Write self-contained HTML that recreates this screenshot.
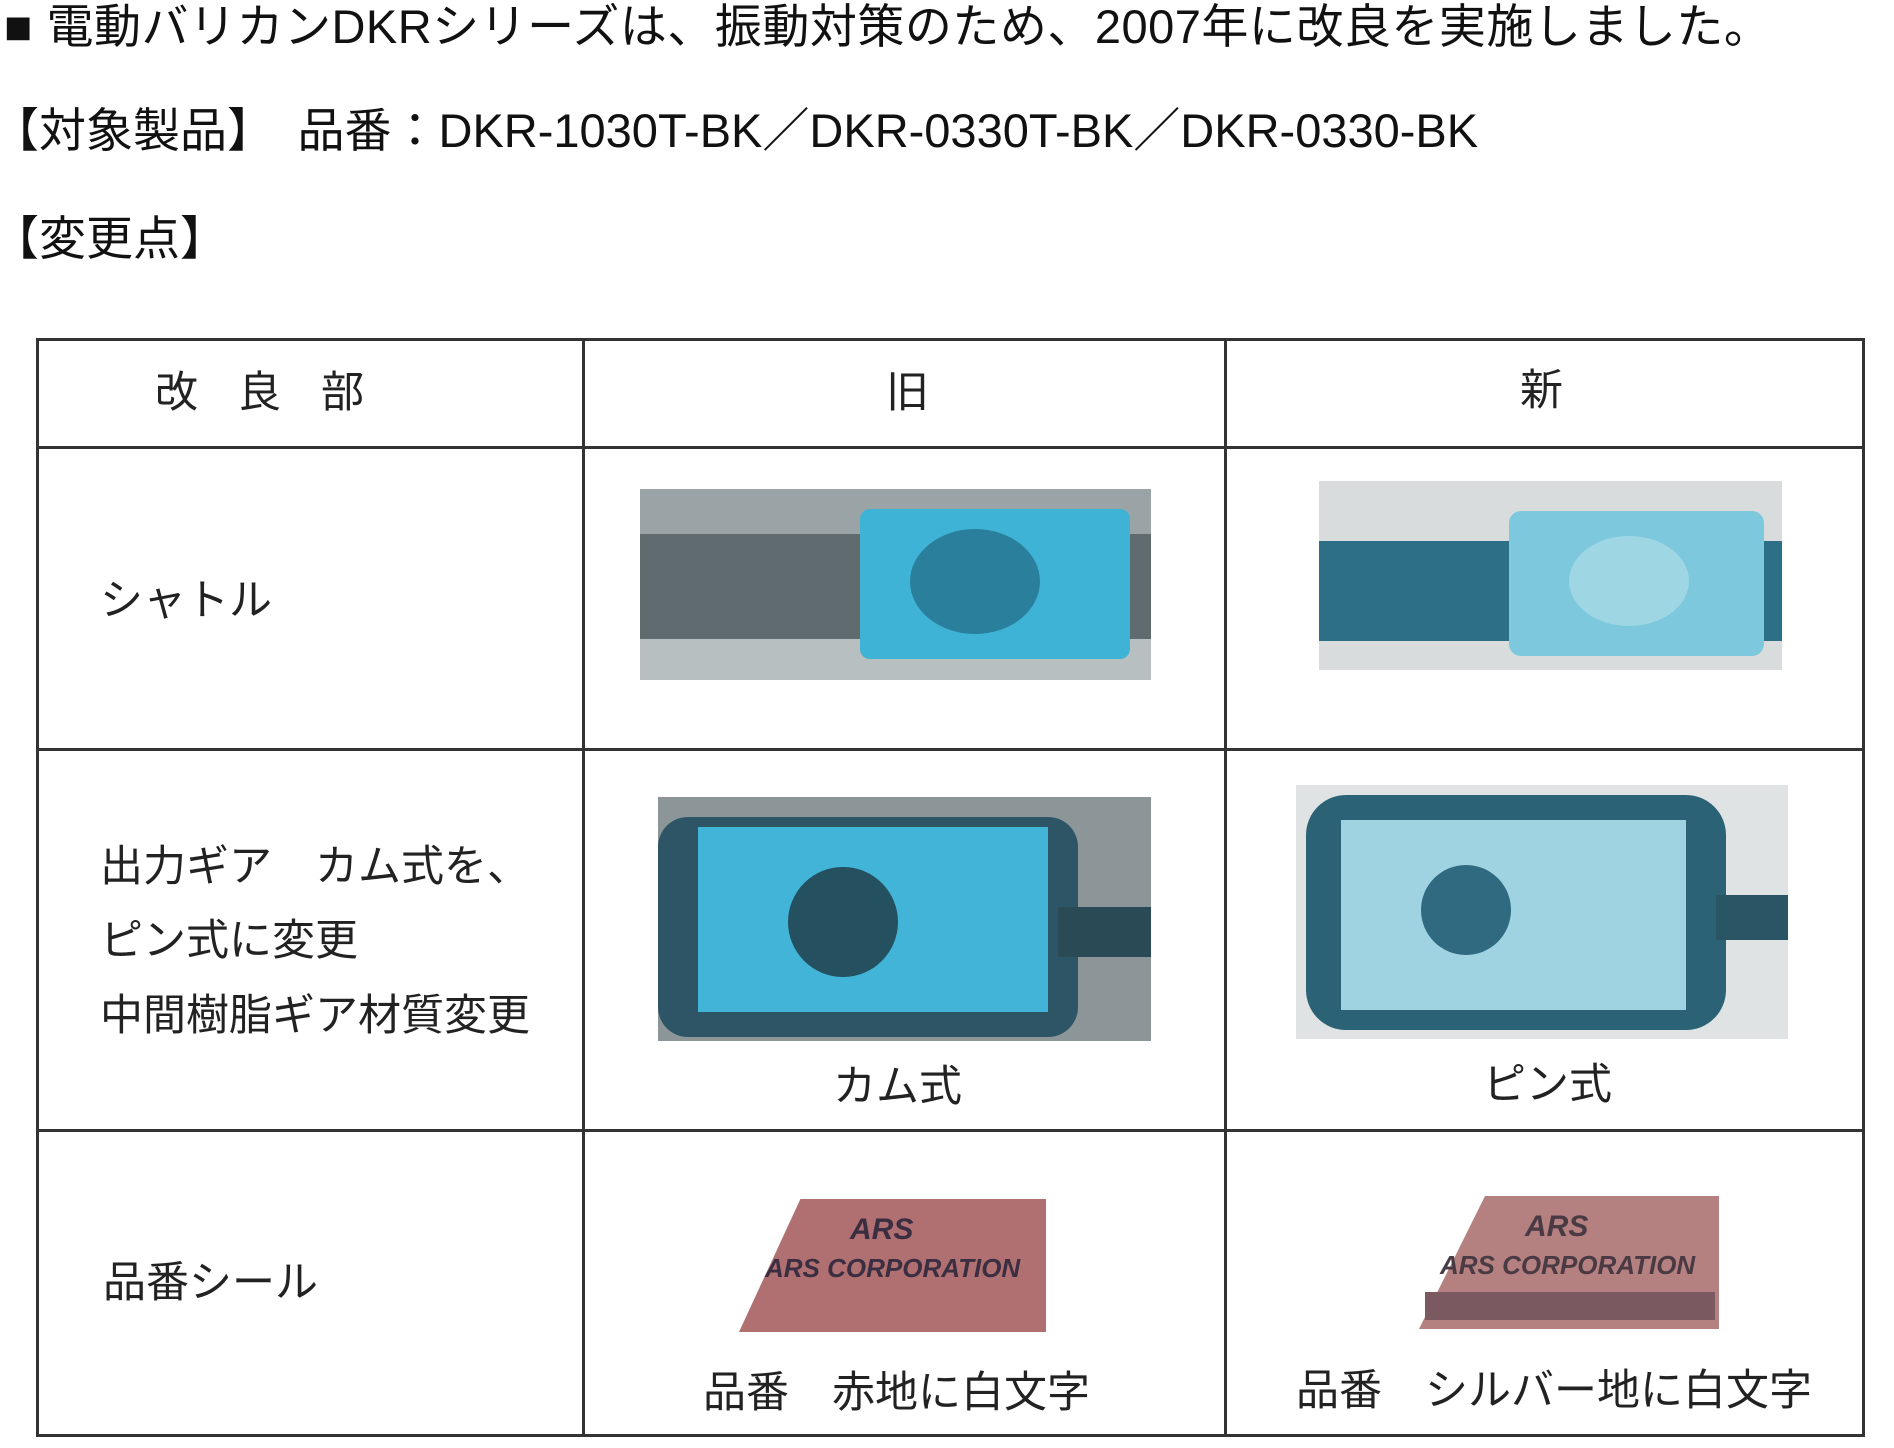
<!DOCTYPE html>
<html><head><meta charset="utf-8"><style>
body{margin:0;width:1894px;height:1448px;background:#fff;position:relative;overflow:hidden;font-family:"Liberation Sans","Noto Sans CJK JP",sans-serif;color:#111}
.t{position:absolute;white-space:nowrap;line-height:1}
.h{font-size:47px}
.c{font-size:43px;color:#222}
.ln{position:absolute;background:#333}
.ph{position:absolute;overflow:hidden}
</style></head><body>
<div class="t h" style="left:4px;top:3px;letter-spacing:0.5px">■ 電動バリカンDKRシリーズは、振動対策のため、2007年に改良を実施しました。</div>
<div class="t h" style="left:-8px;top:107px">【対象製品】　品番：DKR-1030T-BK／DKR-0330T-BK／DKR-0330-BK</div>
<div class="t h" style="left:-8px;top:215px">【変更点】</div>

<div class="ln" style="left:36px;top:338px;width:1828px;height:3px"></div>
<div class="ln" style="left:36px;top:446px;width:1828px;height:3px"></div>
<div class="ln" style="left:36px;top:748px;width:1828px;height:3px"></div>
<div class="ln" style="left:36px;top:1129px;width:1828px;height:3px"></div>
<div class="ln" style="left:36px;top:1434px;width:1828px;height:3px"></div>
<div class="ln" style="left:36px;top:338px;width:3px;height:1099px"></div>
<div class="ln" style="left:582px;top:338px;width:3px;height:1099px"></div>
<div class="ln" style="left:1224px;top:338px;width:3px;height:1099px"></div>
<div class="ln" style="left:1862px;top:338px;width:3px;height:1099px"></div>

<div class="t c" style="left:155px;top:372px;letter-spacing:40px">改良部</div>
<div class="t c" style="left:886px;top:372px">旧</div>
<div class="t c" style="left:1520px;top:370px">新</div>
<div class="t c" style="left:100px;top:580px">シャトル</div>
<div class="t c" style="left:100px;top:846px">出力ギア　カム式を、</div>
<div class="t c" style="left:100px;top:920px">ピン式に変更</div>
<div class="t c" style="left:100px;top:995px">中間樹脂ギア材質変更</div>
<div class="t c" style="left:103px;top:1262px">品番シール</div>
<div class="t c" style="left:833px;top:1066px">カム式</div>
<div class="t c" style="left:1483px;top:1064px">ピン式</div>
<div class="t c" style="left:703px;top:1372px">品番　赤地に白文字</div>
<div class="t c" style="left:1296px;top:1370px">品番　シルバー地に白文字</div>

<div class="ph" style="left:640px;top:489px;width:511px;height:191px;background:#5f6b6f">
<div style="position:absolute;left:0;top:0;width:511px;height:45px;background:#9aa4a6"></div>
<div style="position:absolute;left:0;top:150px;width:511px;height:41px;background:#b8bfc0"></div>
<div style="position:absolute;left:220px;top:20px;width:270px;height:150px;background:#3fb3d6;border-radius:10px"></div>
<div style="position:absolute;left:270px;top:40px;width:130px;height:105px;background:#2a7f9c;border-radius:50%"></div>
</div>
<div class="ph" style="left:1319px;top:481px;width:463px;height:189px;background:#d8dcdc">
<div style="position:absolute;left:0;top:60px;width:463px;height:100px;background:#2e6f88"></div>
<div style="position:absolute;left:190px;top:30px;width:255px;height:145px;background:#7dc8dc;border-radius:12px"></div>
<div style="position:absolute;left:250px;top:55px;width:120px;height:90px;background:#9fd6e4;border-radius:50%"></div>
</div>
<div class="ph" style="left:658px;top:797px;width:493px;height:244px;background:#8c9597">
<div style="position:absolute;left:0;top:20px;width:420px;height:220px;background:#2d5566;border-radius:30px"></div>
<div style="position:absolute;left:40px;top:30px;width:350px;height:185px;background:#41b4d8"></div>
<div style="position:absolute;left:130px;top:70px;width:110px;height:110px;background:#24505f;border-radius:50%"></div>
<div style="position:absolute;left:400px;top:110px;width:93px;height:50px;background:#2a4a55"></div>
</div>
<div class="ph" style="left:1296px;top:785px;width:492px;height:254px;background:#e0e3e3">
<div style="position:absolute;left:10px;top:10px;width:420px;height:235px;background:#2b6275;border-radius:40px"></div>
<div style="position:absolute;left:45px;top:35px;width:345px;height:190px;background:#9fd3e2"></div>
<div style="position:absolute;left:125px;top:80px;width:90px;height:90px;background:#2f6a80;border-radius:50%"></div>
<div style="position:absolute;left:420px;top:110px;width:72px;height:45px;background:#2a5565"></div>
</div>
<div style="position:absolute;left:739px;top:1199px;width:307px;height:133px;background:#b07072;clip-path:polygon(20% 0,100% 0,100% 100%,0 100%)"></div>
<div class="t" style="left:765px;top:1255px;font-size:26px;font-weight:bold;font-style:italic;color:#3a2e40">ARS CORPORATION</div>
<div class="t" style="left:850px;top:1215px;font-size:30px;font-weight:bold;font-style:italic;color:#3a2e40">ARS</div>
<div style="position:absolute;left:1419px;top:1196px;width:300px;height:133px;background:#b48080;clip-path:polygon(22% 0,100% 0,100% 100%,0 100%)"></div>
<div class="t" style="left:1440px;top:1252px;font-size:26px;font-weight:bold;font-style:italic;color:#4a3a44">ARS CORPORATION</div>
<div class="t" style="left:1525px;top:1212px;font-size:30px;font-weight:bold;font-style:italic;color:#4a3a44">ARS</div>
<div style="position:absolute;left:1425px;top:1292px;width:290px;height:28px;background:#7a5a60"></div>
</body></html>
